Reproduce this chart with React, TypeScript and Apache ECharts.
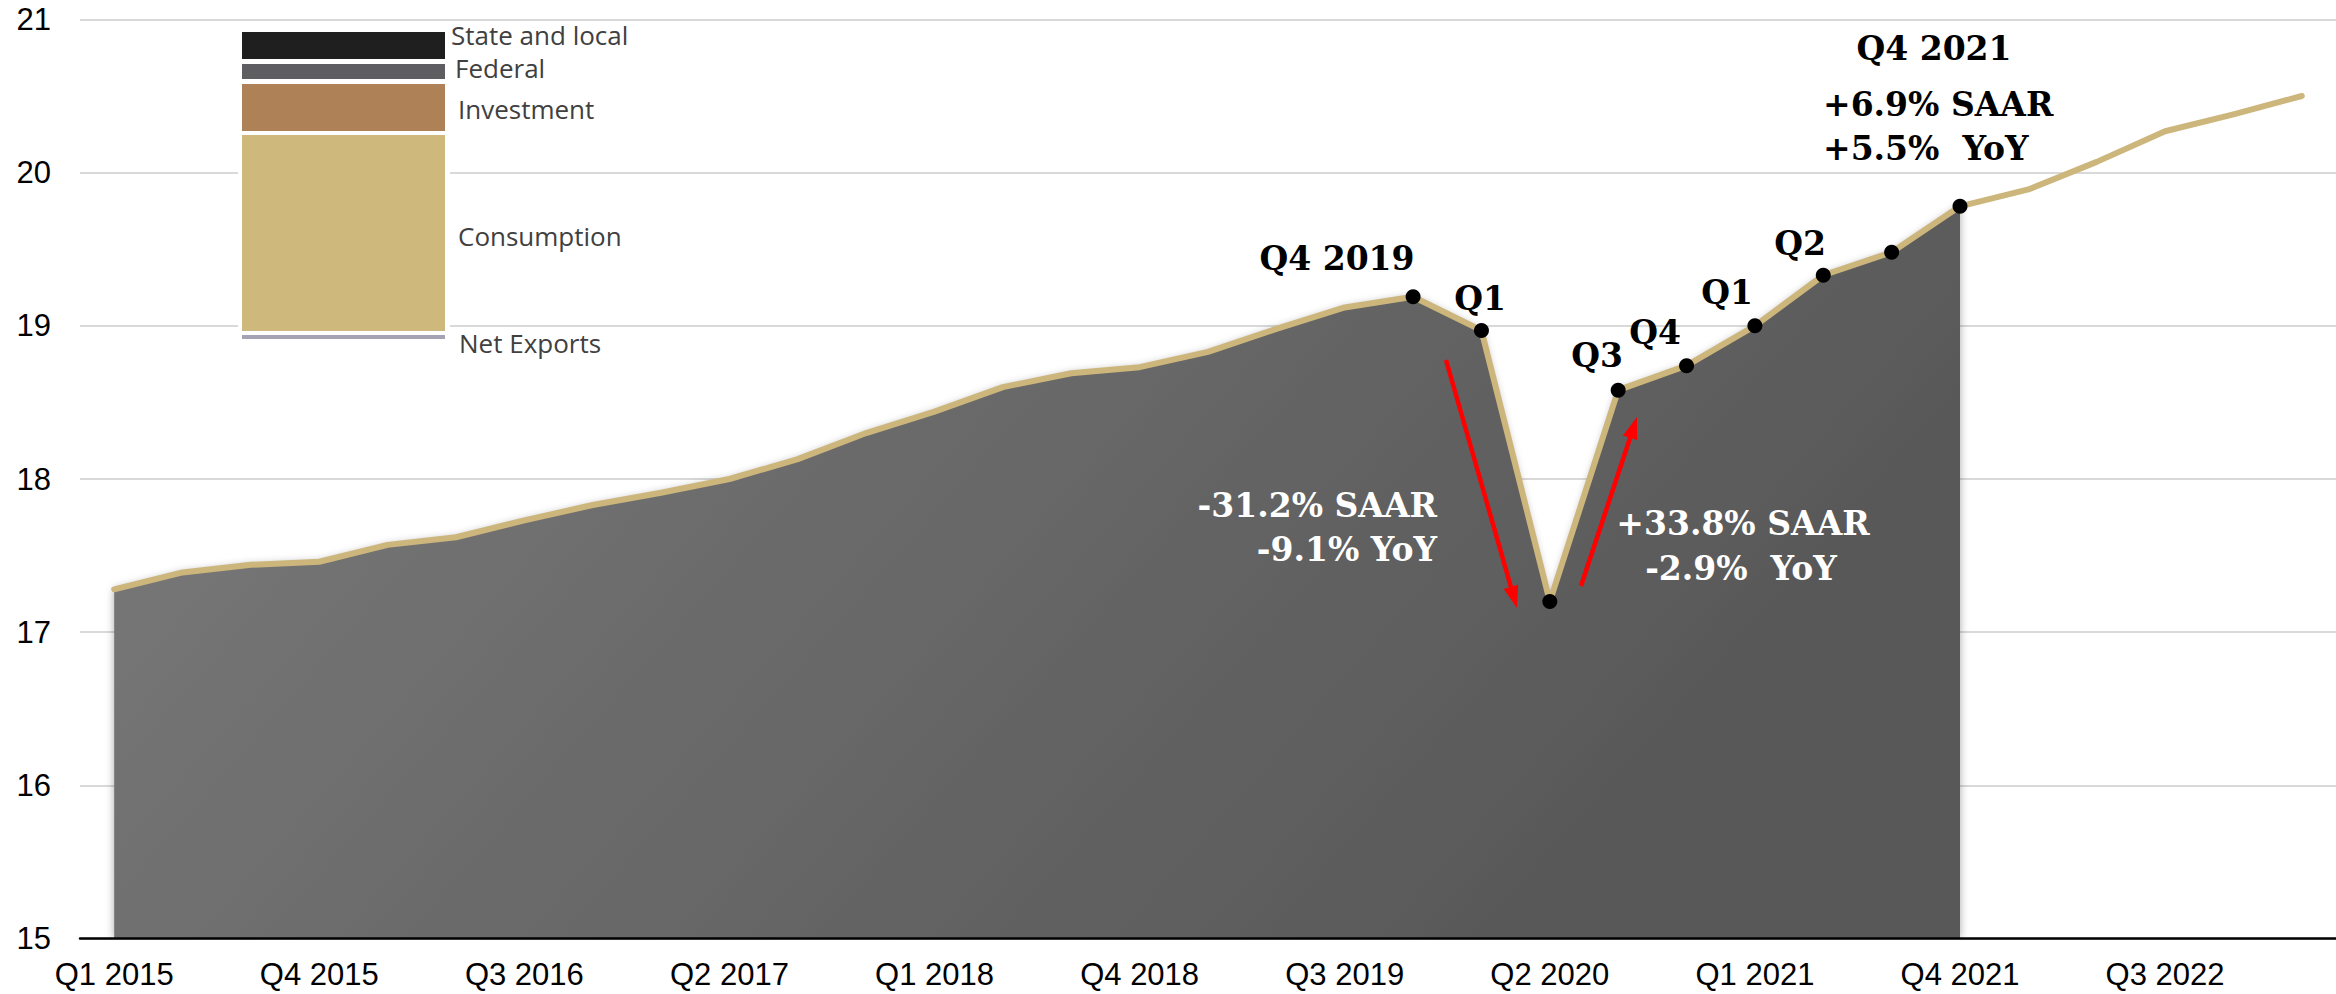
import React, { useEffect, useRef } from "react";
import * as echarts from "echarts";

const categories = [
  "Q1 2015", "Q2 2015", "Q3 2015", "Q4 2015",
  "Q1 2016", "Q2 2016", "Q3 2016", "Q4 2016",
  "Q1 2017", "Q2 2017", "Q3 2017", "Q4 2017",
  "Q1 2018", "Q2 2018", "Q3 2018", "Q4 2018",
  "Q1 2019", "Q2 2019", "Q3 2019", "Q4 2019",
  "Q1 2020", "Q2 2020", "Q3 2020", "Q4 2020",
  "Q1 2021", "Q2 2021", "Q3 2021", "Q4 2021",
  "Q1 2022", "Q2 2022", "Q3 2022", "Q4 2022",
  "Q1 2023",
];

// Real GDP, trillions (actual through Q4 2021)
const gdpActual = [
  17.28, 17.39, 17.44, 17.46, 17.57, 17.62, 17.73, 17.83,
  17.91, 18.0, 18.13, 18.3, 18.44, 18.6, 18.69, 18.73,
  18.83, 18.98, 19.12, 19.19, 18.97, 17.2, 18.58, 18.74,
  19.0, 19.33, 19.48, 19.78,
];
// Projection Q1 2022 .. Q1 2023
const gdpProjected = [19.89, 20.07, 20.27, 20.38, 20.5];

// Quarters marked with a dot (indices into categories)
const dotIndices = [19, 20, 21, 22, 23, 24, 25, 26, 27];

const yTicks = { min: 15, max: 21, interval: 1 };

const legendItems = ["State and local", "Federal", "Investment", "Consumption", "Net Exports"];
const legendColors = ["#1f1f1f", "#5e5d62", "#ae8256", "#cfb87c", "#a5a3b3"];

const GOLD = "#cdb67c";
const SERIF = "'DejaVu Serif', serif";

function arrow(x1: number, y1: number, x2: number, y2: number) {
  const headLen = 22;
  const headW = 15;
  const dx = x2 - x1;
  const dy = y2 - y1;
  const L = Math.hypot(dx, dy);
  const ux = dx / L;
  const uy = dy / L;
  const bx = x2 - ux * headLen;
  const by = y2 - uy * headLen;
  const px = -uy;
  const py = ux;
  return [
    {
      type: "line",
      z: 100,
      shape: { x1, y1, x2: bx + ux * 2, y2: by + uy * 2 },
      style: { stroke: "#ff0000", lineWidth: 4.5 },
    },
    {
      type: "polygon",
      z: 100,
      shape: {
        points: [
          [x2, y2],
          [bx + (px * headW) / 2, by + (py * headW) / 2],
          [bx - (px * headW) / 2, by - (py * headW) / 2],
        ],
      },
      style: { fill: "#ff0000" },
    },
  ];
}

function txt(
  text: string,
  x: number,
  y: number,
  opts: { align?: string; color?: string; size?: number; family?: string; weight?: string; lh?: number } = {}
) {
  const align = opts.align || "center";
  return {
    type: "text",
    z: 100,
    x,
    y,
    style: {
      text,
      fill: opts.color || "#000",
      fontSize: opts.size || 33,
      fontFamily: opts.family || SERIF,
      fontWeight: opts.weight || "bold",
      lineHeight: opts.lh || undefined,
      align,
      textAlign: align,
      verticalAlign: "middle",
      textVerticalAlign: "middle",
    },
  };
}

export default function App() {
  const ref = useRef<HTMLDivElement>(null);

  useEffect(() => {
    document.body.style.margin = "0";
    document.body.style.overflow = "hidden";
    const chart = echarts.init(ref.current!, null, { renderer: "svg" });

    const fullLine = gdpActual.concat(gdpProjected);
    const dots = dotIndices.map((i) => [i, fullLine[i]]);

    // legend block geometry
    const lx = 242;
    const lw = 203;
    const blocks = [
      { y: 32, h: 27 },
      { y: 64, h: 15 },
      { y: 84, h: 47 },
      { y: 135, h: 196 },
      { y: 335, h: 4 },
    ];
    const labelPos = [
      { x: 451, y: 35 },
      { x: 455, y: 68 },
      { x: 458, y: 109 },
      { x: 458, y: 236 },
      { x: 459, y: 343 },
    ];

    const graphic: any[] = [
      { type: "rect", z: 90, shape: { x: 238, y: 27, width: 212, height: 316 }, style: { fill: "#ffffff" } },
    ];
    legendItems.forEach((name, k) => {
      graphic.push({
        type: "rect",
        z: 95,
        shape: { x: lx, y: blocks[k].y, width: lw, height: blocks[k].h },
        style: { fill: legendColors[k] },
      });
      graphic.push(
        txt(name, labelPos[k].x, labelPos[k].y, {
          align: "left",
          color: "#404040",
          size: 26,
          family: "'Open Sans', sans-serif",
          weight: "normal",
          lh: 27,
        })
      );
    });

    // Annotations
    graphic.push(txt("Q4 2019", 1337, 258));
    graphic.push(txt("Q1", 1480, 298));
    graphic.push(txt("Q3", 1597, 355));
    graphic.push(txt("Q4", 1655, 332));
    graphic.push(txt("Q1", 1727, 292));
    graphic.push(txt("Q2", 1800, 243));
    graphic.push(txt("Q4 2021", 1934, 48));
    graphic.push(txt("+6.9% SAAR", 1823, 104, { align: "left" }));
    graphic.push(txt("+5.5%  YoY", 1823, 148, { align: "left" }));
    graphic.push(txt("-31.2% SAAR", 1437, 505, { align: "right", color: "#ffffff" }));
    graphic.push(txt("-9.1% YoY", 1437, 549, { align: "right", color: "#ffffff" }));
    graphic.push(txt("+33.8% SAAR", 1743, 523, { color: "#ffffff" }));
    graphic.push(txt("-2.9%  YoY", 1741, 568, { color: "#ffffff" }));
    graphic.push(...arrow(1446, 360, 1517, 608));
    graphic.push(...arrow(1581, 586, 1637, 417));

    chart.setOption({
      animation: false,
      backgroundColor: "#ffffff",
      grid: {
        left: 80,
        right: 0,
        top: 19.4,
        bottom: 55.4,
        containLabel: false,
        outerBoundsMode: "none",
      },
      xAxis: {
        type: "category",
        data: categories,
        boundaryGap: true,
        axisLine: { show: true, lineStyle: { color: "#000", width: 2.5 } },
        axisTick: { show: false },
        axisLabel: {
          interval: 2,
          color: "#000",
          fontSize: 31,
          fontFamily: "'Liberation Sans', Arial, sans-serif",
          margin: 20,
        },
        splitLine: { show: false },
        z: 10,
      },
      yAxis: {
        type: "value",
        min: yTicks.min,
        max: yTicks.max,
        interval: yTicks.interval,
        axisLine: { show: false },
        axisTick: { show: false },
        axisLabel: {
          color: "#000",
          fontSize: 31,
          fontFamily: "'Liberation Sans', Arial, sans-serif",
          margin: 29,
        },
        splitLine: { show: true, lineStyle: { color: "#d9d9d9", width: 2 } },
      },
      series: [
        {
          type: "line",
          name: "GDP area",
          data: gdpActual,
          symbol: "none",
          z: 1,
          lineStyle: { width: 0, opacity: 0 },
          areaStyle: {
            origin: "start",
            opacity: 1,
            color: {
              type: "linear",
              x: 0,
              y: 0,
              x2: 1,
              y2: 0.35,
              colorStops: [
                { offset: 0, color: "#7b7b7b" },
                { offset: 1, color: "#585858" },
              ],
            },
            shadowBlur: 8,
            shadowColor: "rgba(0,0,0,0.35)",
          },
        },
        {
          type: "line",
          name: "GDP",
          data: fullLine,
          symbol: "none",
          z: 3,
          lineStyle: { color: GOLD, width: 6, join: "round", cap: "round" },
        },
        {
          type: "scatter",
          name: "marks",
          data: dots,
          symbol: "circle",
          symbolSize: 15,
          z: 5,
          itemStyle: { color: "#000", opacity: 1 },
        },
      ],
      graphic,
    });

    return () => chart.dispose();
  }, []);

  return <div ref={ref} style={{ width: 2336, height: 994 }} />;
}
